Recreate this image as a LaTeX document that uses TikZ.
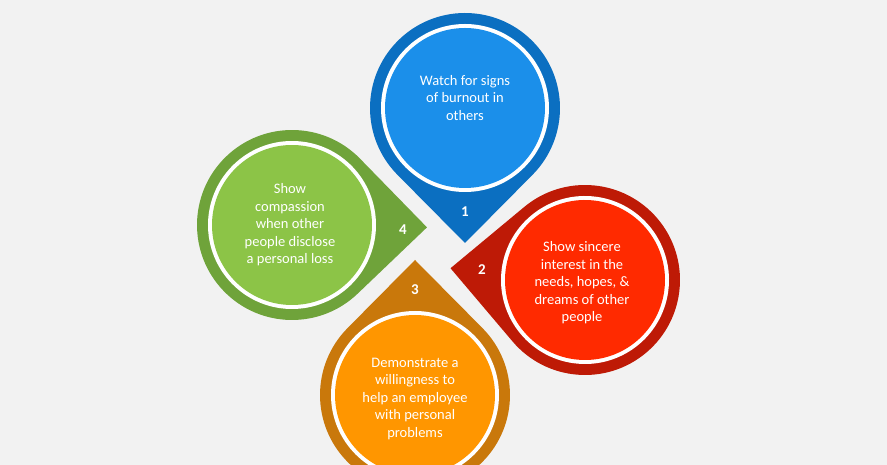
\documentclass[tikz,border=0pt]{standalone}
\usepackage{fontspec}
\setmainfont{Carlito}
\usetikzlibrary{positioning}
\definecolor{bg}{HTML}{F2F2F2}
\definecolor{blueO}{HTML}{0B6FC1}\definecolor{blueI}{HTML}{1B8FEA}
\definecolor{redO}{HTML}{BE1A06}\definecolor{redI}{HTML}{FF2A00}
\definecolor{orangeO}{HTML}{C9780B}\definecolor{orangeI}{HTML}{FF9600}
\definecolor{greenO}{HTML}{6FA33A}\definecolor{greenI}{HTML}{8CC447}
% teardrop: #1 centre, #2 direction of tip, #3 outer colour, #4 inner colour
\newcommand\drop[4]{%
  \begin{scope}[shift={#1},rotate=#2]
    \fill[#3] (135,0) -- (45.3:95) arc[start angle=45.3,end angle=314.7,radius=95] -- cycle;
    \fill[white] (0,0) circle[radius=84];
    \fill[#4] (0,0) circle[radius=80];
  \end{scope}}
\begin{document}
\begin{tikzpicture}[x=1pt,y=1pt]
  \tikzset{
    label/.style={text=white, align=center, font=\fontsize{14.5}{17.5}\selectfont},
    num/.style={text=white, font=\fontsize{15}{17}\selectfont\bfseries}
  }
  \fill[bg] (0,0) rectangle (887,465);
  \useasboundingbox (0,0) rectangle (887,465);

  % drops
  \drop{(465,357)}{-90}{blueO}{blueI}
  \drop{(585,185)}{175}{redO}{redI}
  \drop{(415,70)}{90}{orangeO}{orangeI}
  \drop{(292,240)}{-1}{greenO}{greenI}

  % texts
  \node[label] (watch) at (465,367) {Watch for signs\\of burnout in\\others};
  \node[label] (sincere) at (582,182) {Show sincere\\interest in the\\needs, hopes, \&\\dreams of other\\people};
  \node[label] (demo) at (415,66) {Demonstrate a\\willingness to\\help an employee\\with personal\\problems};
  \node[label] (compassion) at (290,240) {Show\\compassion\\when other\\people disclose\\a personal loss};

  % numbers
  \node[num] (n1) at (465,253) {1};
  \node[num] (n2) at (482,195) {2};
  \node[num] (n3) at (415,175) {3};
  \node[num] (n4) at (403,235) {4};
\end{tikzpicture}
\end{document}
